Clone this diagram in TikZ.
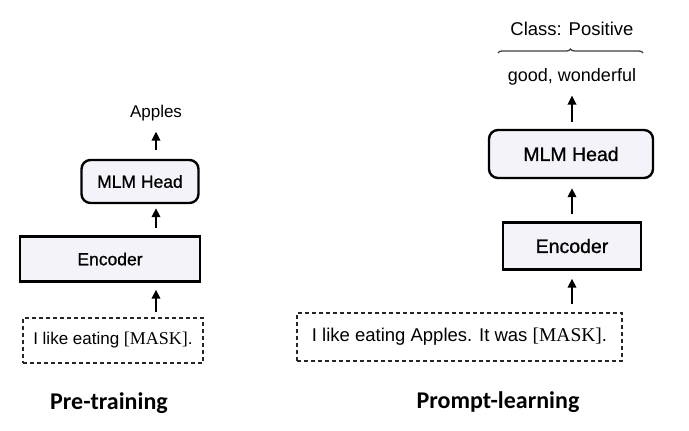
\documentclass[tikz,border=0pt]{standalone}
\usepackage{fontspec}
\setmainfont{Liberation Sans}
\newfontfamily\medfont{Liberation Sans}[FakeBold=0.9]
\newfontfamily\titlefont{Carlito}
\newfontfamily\maskfont{Liberation Serif}
\usetikzlibrary{arrows.meta,decorations.pathreplacing}
\definecolor{boxfill}{RGB}{243,243,249}
\begin{document}
\begin{tikzpicture}[x=1pt,y=-1pt,
  boxstyle/.style={draw=black,line width=2.4pt,fill=boxfill,inner sep=0pt},
  roundbox/.style={boxstyle,rounded corners=9pt},
  dashbox/.style={draw=black!85,line width=1.8pt,dash pattern=on 4pt off 3pt,inner sep=0pt},
  lbl/.style={inner sep=0pt},
  arr/.style={line width=2pt,-{Triangle[width=8.5pt,length=9pt]}},
  ttl/.style={inner sep=0pt,font=\titlefont\bfseries\fontsize{24}{28}\selectfont}
]
\useasboundingbox[fill=white] (0,0) rectangle (689,431);

% ---------- Pre-training ----------
\node[lbl,font=\fontsize{17}{20}\selectfont] (apples) at (156,113.5) {Apples};
\node[roundbox,minimum width=117pt,minimum height=43pt,font=\medfont\fontsize{17.5}{20}\selectfont] (mlmL) at (140,181.5) {MLM Head};
\node[boxstyle,minimum width=180pt,minimum height=45pt,font=\medfont\fontsize{17.5}{20}\selectfont] (encL) at (110,259) {Encoder};
\node[dashbox,minimum width=180pt,minimum height=45pt,font=\fontsize{17}{20}\selectfont] (dashL) at (113,340.5) {I like eating {\maskfont\fontsize{18}{20}\selectfont[MASK]}.};
\node[ttl] (titleL) at (109,403) {Pre-training};

\draw[arr,shorten <=9pt,shorten >=10pt] (mlmL.north -| apples) -- (apples.south);
\draw[arr,shorten <=7pt,shorten >=4pt] (encL.north -| apples) -- (mlmL.south -| apples);
\draw[arr,shorten <=5pt,shorten >=7pt] (dashL.north -| apples) -- (encL.south -| apples);

% ---------- Prompt-learning ----------
\node[lbl,font=\fontsize{18.5}{22}\selectfont] (cls) at (572,29) {Class: Positive};
\coordinate (braceL) at (498,53);
\coordinate (braceR) at (643,53);
\draw[decorate,decoration={brace,amplitude=4pt},line width=1.3pt,draw=black!75] (braceL) -- (braceR);
\node[lbl,font=\fontsize{18}{22}\selectfont] (good) at (572,77) {good, wonderful};
\node[roundbox,minimum width=164pt,minimum height=48pt,font=\medfont\fontsize{19.5}{22}\selectfont] (mlmR) at (571,154) {MLM Head};
\node[boxstyle,minimum width=138pt,minimum height=47pt,font=\medfont\fontsize{19.5}{22}\selectfont] (encR) at (572,246) {Encoder};
\node[dashbox,minimum width=325pt,minimum height=48pt,font=\fontsize{18.5}{22}\selectfont] (dashR) at (459.5,337) {I like eating Apples. It was {\maskfont\fontsize{19.5}{22}\selectfont[MASK]}.};
\node[ttl] (titleR) at (498,402) {Prompt-learning};

\draw[arr,shorten <=7pt] (mlmR.north -| good) -- ([yshift=-10pt]good.south);
\draw[arr,shorten <=7pt,shorten >=9pt] (encR.north) -- (mlmR.south -| encR);
\draw[arr,shorten <=8pt,shorten >=8pt] (dashR.north -| encR) -- (encR.south);
\end{tikzpicture}
\end{document}
